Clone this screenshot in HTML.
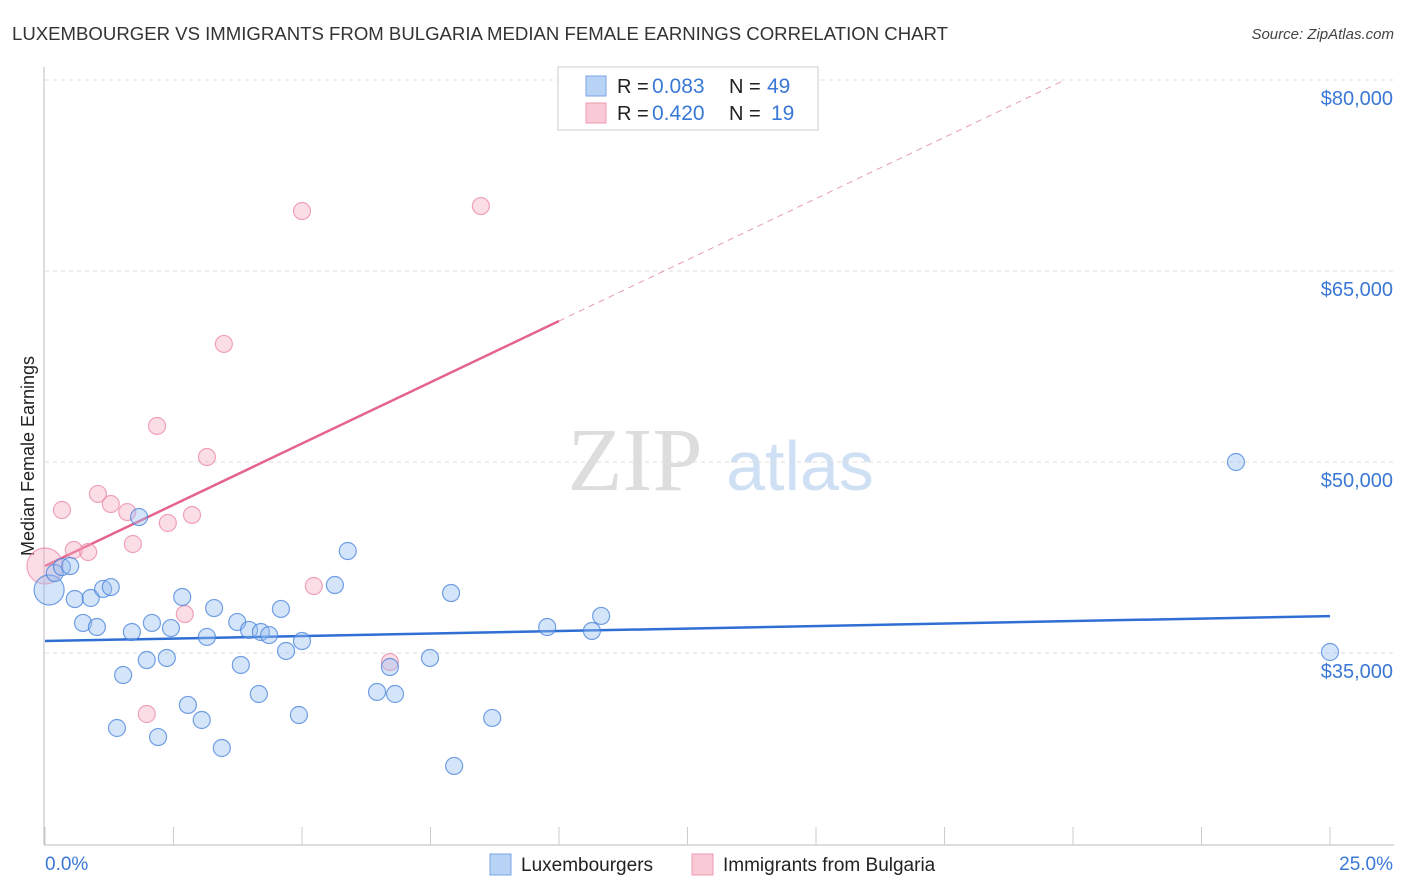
<!DOCTYPE html>
<html><head><meta charset="utf-8"><style>
body{margin:0;background:#fff;width:1406px;height:892px;overflow:hidden;font-family:"Liberation Sans",sans-serif}
svg{display:block}
</style></head><body>
<svg id="chart" width="1406" height="892">
<text x="12" y="40" font-size="18" fill="#333" textLength="936" lengthAdjust="spacingAndGlyphs">LUXEMBOURGER VS IMMIGRANTS FROM BULGARIA MEDIAN FEMALE EARNINGS CORRELATION CHART</text>
<text x="1394" y="39" font-size="15" fill="#444" font-style="italic" text-anchor="end">Source: ZipAtlas.com</text>
<text x="34" y="456" font-size="18" fill="#222" text-anchor="middle" transform="rotate(-90 34 456)">Median Female Earnings</text>
<g>
<text x="635" y="490" font-size="90" fill="#ddd" font-family="Liberation Serif,serif" text-anchor="middle">ZIP</text>
<text x="800" y="490" font-size="70" fill="#cfe0f5" text-anchor="middle">atlas</text>
</g>
<g id="grid"></g>
<g id="axes"></g>
<g id="lines"></g>
<g id="points"></g>
<g>
<rect x="558" y="67" width="260" height="63" fill="#fff" stroke="#ccc"/>
<rect x="586" y="76" width="20" height="20" fill="#b8d3f5" stroke="#7aa6e6"/>
<rect x="586" y="103" width="20" height="20" fill="#f9c9d6" stroke="#ec9ab1"/>
<text x="617" y="93" font-size="20" fill="#222">R = <tspan x="652" font-size="21" fill="#3a78d6">0.083</tspan><tspan x="729">N = </tspan><tspan x="767" font-size="21" fill="#3a78d6">49</tspan></text>
<text x="617" y="120" font-size="20" fill="#222">R = <tspan x="652" font-size="21" fill="#3a78d6">0.420</tspan><tspan x="729">N = </tspan><tspan x="771" font-size="21" fill="#3a78d6">19</tspan></text>
</g>
<g>
<rect x="490" y="854" width="21" height="21" fill="#b8d3f5" stroke="#7aa6e6"/>
<text x="521" y="871" font-size="19" fill="#222">Luxembourgers</text>
<rect x="692" y="854" width="21" height="21" fill="#f9c9d6" stroke="#ec9ab1"/>
<text x="723" y="871" font-size="19" fill="#222">Immigrants from Bulgaria</text>
</g>
<text x="45" y="870" font-size="19" fill="#3a78d6">0.0%</text>
<text x="1393" y="870" font-size="19" fill="#3a78d6" text-anchor="end">25.0%</text>
</svg>
<script>
const yTicks=[35000,50000,65000,80000];
const yTickLabels=["$35,000","$50,000","$65,000","$80,000"];
const xTicks=[0,2.5,5,7.5,10,12.5,15,17.5,20,22.5,25];
const blueX=[0.08,0.19,0.33,0.49,0.58,0.89,1.13,1.28,0.74,1.01,1.69,1.83,2.08,2.45,2.67,3.29,3.15,3.74,3.97,4.20,4.36,4.59,5.00,4.69,1.98,2.37,1.52,3.81,2.78,3.05,4.16,4.94,1.40,2.20,3.44,5.89,5.64,6.71,6.46,6.81,7.49,7.90,9.77,10.64,10.82,8.70,7.96,23.17,25.0];
const blueY=[39950,41280,41750,41830,39240,39320,40030,40180,37360,37040,36650,45680,37360,36960,39400,38530,36260,37430,36810,36650,36410,38460,35940,35160,34450,34610,33270,34060,30920,29740,31780,30130,29110,28400,27540,43010,40340,33900,31940,31780,34610,39710,37040,36730,37910,29900,26130,50000,35080];
const pinkX=[0,0.33,0.56,0.84,1.03,1.28,1.60,1.71,2.18,2.39,2.86,3.15,3.48,2.72,1.98,5.00,8.48,5.23,6.71];
const pinkY=[41830,46230,43090,42930,47490,46700,46070,43560,52830,45210,45840,50390,59270,38060,30210,69710,70100,40260,34290];
const blueTrend=[[0,35940],[25,37900]];
const pinkTrend=[[0,41830],[10,61070]];
const pinkTrendExt=[[10,61070],[19.84,80000]];
const NS='http://www.w3.org/2000/svg';
const xs=v=>45+v/25*1285;
const ys=v=>653-(v-35000)*191/15000;
function mk(tag,attrs,parent){const e=document.createElementNS(NS,tag);for(const k in attrs)e.setAttribute(k,attrs[k]);document.getElementById(parent).appendChild(e);return e;}
yTicks.forEach((t,i)=>{
  const g=mk('line',{x1:45,x2:1394,y1:ys(t),y2:ys(t),stroke:'#ddd','stroke-dasharray':'4,4'},'grid');
  
  
  const tx=mk('text',{x:1393,y:ys(t)+25,'font-size':20,fill:'#3a78d6','text-anchor':'end'},'grid');
  tx.textContent=yTickLabels[i];
  
  
});
const ya=mk('line',{x1:44,x2:44,y1:67,y2:845,stroke:'#bbb'},'axes');


const xa=mk('line',{x1:44,x2:1394,y1:845,y2:845,stroke:'#bbb'},'axes');


xTicks.forEach(t=>{
  const l=mk('line',{x1:xs(t),x2:xs(t),y1:827,y2:845,stroke:'#ccc'},'axes');
  
  
});
function pts(arr){return arr.map(p=>xs(p[0])+','+ys(p[1])).join(' ');}
const bl=mk('polyline',{points:pts(blueTrend),stroke:'#2f6fd4','stroke-width':2.5,fill:'none'},'lines');


const pl=mk('polyline',{points:pts(pinkTrend),stroke:'#e5648e','stroke-width':2.5,fill:'none'},'lines');


const pe=mk('polyline',{points:pts(pinkTrendExt),stroke:'#e89ab3','stroke-width':1,fill:'none','stroke-dasharray':'6,5'},'lines');


pinkX.forEach((x,i)=>{
  const c=mk('circle',{cx:xs(x),cy:ys(pinkY[i]),r:i===0?18:8.5,fill:'rgba(246,170,192,0.4)',stroke:'rgba(232,130,160,0.7)','stroke-width':1.2},'points');
  
  
});
blueX.forEach((x,i)=>{
  const c=mk('circle',{cx:xs(x),cy:ys(blueY[i]),r:i===0?15:8.5,fill:'rgba(150,190,240,0.4)',stroke:'rgba(70,130,220,0.75)','stroke-width':1.2},'points');
  
  
});
</script>
</body></html>
